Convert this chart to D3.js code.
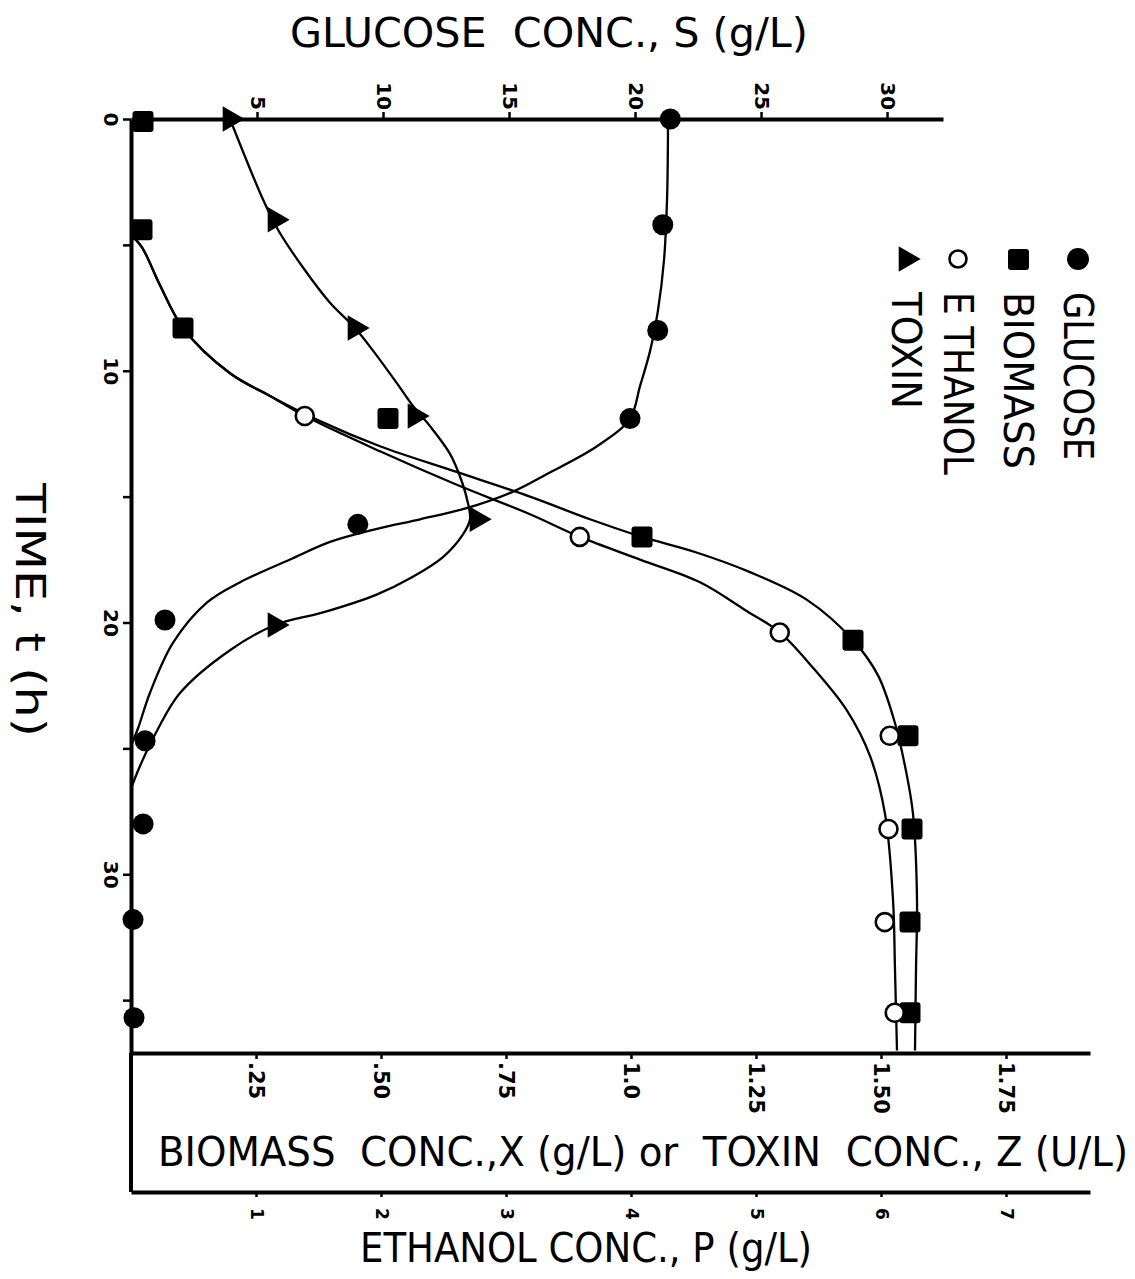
<!DOCTYPE html>
<html>
<head>
<meta charset="utf-8">
<script src="https://cdn.jsdelivr.net/npm/d3@7"></script>
<style>
  body { margin: 0; background: #fff; }
  svg { display: block; }
  .title { font-family: "DejaVu Sans Condensed", "DejaVu Sans", sans-serif; white-space: pre; }
  .tick text { font-family: "DejaVu Sans", sans-serif; font-weight: bold; }
</style>
</head>
<body>
<svg id="chart" width="1135" height="1279"></svg>
<script>
// measured points (time in h)
const glucoseT = [0, 4.2, 8.4, 11.9, 16.1, 19.9, 24.7, 28.0, 31.8, 35.7];
const glucoseS = [21.4, 21.1, 20.9, 19.8, 9.0, 1.35, 0.56, 0.48, 0.08, 0.12];

const biomassT = [0.1, 4.4, 8.3, 11.9, 16.6, 20.7, 24.5, 28.2, 31.9, 35.5];
const biomassX = [0.024, 0.022, 0.104, 0.514, 1.022, 1.444, 1.554, 1.562, 1.558, 1.558];

const ethanolT = [11.8, 16.6, 20.4, 24.5, 28.2, 31.9, 35.5];
const ethanolP = [1.39, 3.59, 5.19, 6.07, 6.06, 6.03, 6.11];

const toxinT = [0, 4.0, 8.3, 11.8, 15.9, 20.1];
const toxinZ = [0.198, 0.288, 0.448, 0.568, 0.692, 0.288];

// model curves
const glucoseFitT = [0, 3.2, 5.6, 7.6, 9.2, 10.6, 11.9, 13.0, 14.1, 14.8, 15.5, 15.9, 16.3, 16.8, 17.5, 18.4, 19.2, 20.8, 22.8, 24.2, 24.9];
const glucoseFitS = [21.31, 21.27, 21.15, 20.91, 20.6, 20.2, 19.8, 18.49, 16.51, 15.16, 13.17, 11.47, 9.68, 7.9, 6.31, 4.33, 3.02, 1.67, 0.75, 0.28, 0];

const toxinFitT = [0, 3.2, 4.4, 5.9, 7.3, 8.3, 9.2, 10.5, 11.4, 12.2, 13.3, 14.2, 15.1, 15.9, 16.5, 17.4, 18.2, 18.9, 19.6, 20.1, 21.1, 22.8, 24.3, 25.7, 26.6];
const toxinFitZ = [0.198, 0.264, 0.294, 0.344, 0.398, 0.448, 0.484, 0.532, 0.564, 0.598, 0.638, 0.658, 0.672, 0.678, 0.664, 0.624, 0.562, 0.49, 0.384, 0.288, 0.198, 0.098, 0.052, 0.018, 0];

const biomassFitT = [4.6, 5.1, 6.6, 8.3, 10.1, 11.0, 12.0, 13.0, 14.0, 15.0, 15.9, 16.6, 17.2, 18.0, 19.1, 20.7, 22.1, 24.0, 25.9, 27.6, 31.0, 33.8, 37.0];
const biomassFitX = [0, 0.022, 0.058, 0.104, 0.198, 0.278, 0.378, 0.498, 0.648, 0.798, 0.918, 1.022, 1.128, 1.238, 1.352, 1.444, 1.494, 1.528, 1.55, 1.564, 1.572, 1.57, 1.568];

const ethanolFitT = [4.6, 5.1, 6.6, 8.3, 10.1, 11.0, 11.8, 13.2, 14.5, 15.7, 16.6, 17.5, 18.4, 19.5, 20.4, 21.8, 23.5, 25.3, 27.6, 31.0, 33.8, 37.0];
const ethanolFitP = [0, 0.088, 0.232, 0.416, 0.792, 1.112, 1.392, 1.992, 2.592, 3.192, 3.592, 4.072, 4.552, 4.912, 5.192, 5.456, 5.728, 5.912, 6.032, 6.096, 6.112, 6.128];

// ticks
const timeTicks = [0, 5, 10, 15, 20, 25, 30, 35];
const timeLabeled = [0, 10, 20, 30];
const glucoseTicks = [5, 10, 15, 20, 25, 30];
const biomassTicks = [0.25, 0.5, 0.75, 1.0, 1.25, 1.5, 1.75];
const biomassTickLabels = [".25", ".50", ".75", "1.0", "1.25", "1.50", "1.75"];
const ethanolTicks = [1, 2, 3, 4, 5, 6, 7];

const legendNames = ["GLUCOSE", "BIOMASS", "E THANOL", "TOXIN"];

const svg = d3.select("#chart");
svg.append("rect").attr("width", 1135).attr("height", 1279).attr("fill", "#fff");

const yT = d3.scaleLinear().domain([0, 37.1]).range([119, 1053]);
const xS = d3.scaleLinear().domain([0, 32.22]).range([131, 943]);
const xX = d3.scaleLinear().domain([0, 1.918]).range([131, 1090]);
const xP = d3.scaleLinear().domain([0, 7.672]).range([131, 1090]);
const ethanolAxisY = 1192;

function styleAxis(g, fontSize) {
  g.attr("font-family", null).attr("font-size", fontSize);
  g.select(".domain").attr("stroke", "#000").attr("stroke-width", 4);
  g.selectAll(".tick line").attr("stroke", "#000").attr("stroke-width", 2.5);
  g.selectAll(".tick text").attr("fill", "#000");
}

// glucose axis (top)
const gS = svg.append("g").attr("transform", "translate(0," + yT(0) + ")")
  .call(d3.axisTop(xS).tickValues(glucoseTicks).tickSize(7).tickSizeOuter(0));
styleAxis(gS, 20);
gS.selectAll(".tick text")
  .attr("x", 0).attr("y", 0).attr("dy", "0.35em")
  .attr("text-anchor", "end")
  .attr("transform", "translate(0,-9) rotate(90)");

// time axis (left)
const gT = svg.append("g").attr("transform", "translate(" + xX(0) + ",0)")
  .call(d3.axisLeft(yT).tickValues(timeTicks).tickSize(8).tickSizeOuter(0)
    .tickFormat(d => timeLabeled.includes(d) ? d : ""));
styleAxis(gT, 20);
gT.selectAll(".tick text")
  .attr("x", 0).attr("y", 0).attr("dy", "0.35em")
  .attr("text-anchor", "middle")
  .attr("transform", "translate(-20,0) rotate(90)");

// frame continues down to the ethanol axis
svg.append("line")
  .attr("x1", xX(0)).attr("x2", xX(0))
  .attr("y1", yT.range()[1]).attr("y2", ethanolAxisY)
  .attr("stroke", "#000").attr("stroke-width", 4);

// biomass / toxin axis
const gX = svg.append("g").attr("transform", "translate(0," + yT.range()[1] + ")")
  .call(d3.axisBottom(xX).tickValues(biomassTicks).tickSize(6).tickSizeOuter(0)
    .tickFormat((d, i) => biomassTickLabels[i]));
styleAxis(gX, 21);
gX.selectAll(".tick text")
  .attr("x", 0).attr("y", 0).attr("dy", "0.35em")
  .attr("text-anchor", "start")
  .attr("transform", "translate(0,9) rotate(90)");

// ethanol axis
const gP = svg.append("g").attr("transform", "translate(0," + ethanolAxisY + ")")
  .call(d3.axisBottom(xP).tickValues(ethanolTicks).tickSize(5).tickSizeOuter(0));
styleAxis(gP, 17);
gP.selectAll(".tick text")
  .attr("x", 0).attr("y", 0).attr("dy", "0.35em")
  .attr("text-anchor", "start")
  .attr("transform", "translate(0,16) rotate(90)");

// titles
svg.append("text").attr("class", "title")
  .attr("x", 290).attr("y", 47).attr("font-size", 40)
  .attr("textLength", 518).attr("lengthAdjust", "spacingAndGlyphs")
  .text("GLUCOSE  CONC., S (g/L)");

svg.append("text").attr("class", "title")
  .attr("x", 158).attr("y", 1166).attr("font-size", 40)
  .attr("textLength", 970).attr("lengthAdjust", "spacingAndGlyphs")
  .text("BIOMASS  CONC.,X (g/L) or  TOXIN  CONC., Z (U/L)");

svg.append("text").attr("class", "title")
  .attr("x", 360).attr("y", 1262).attr("font-size", 40)
  .attr("textLength", 452).attr("lengthAdjust", "spacingAndGlyphs")
  .text("ETHANOL CONC., P (g/L)");

svg.append("text").attr("class", "title")
  .attr("font-size", 40).attr("dy", "0.35em")
  .attr("transform", "translate(30,483) rotate(90)")
  .attr("textLength", 254).attr("lengthAdjust", "spacingAndGlyphs")
  .text("TIME, t (h)");

// curves
function curve(ts, vs, xs) {
  return d3.line()
    .x((d, i) => xs(vs[i]))
    .y((d, i) => yT(d))
    .curve(d3.curveCatmullRom.alpha(0.5))(ts);
}
const curves = [
  [glucoseFitT, glucoseFitS, xS],
  [toxinFitT, toxinFitZ, xX],
  [biomassFitT, biomassFitX, xX],
  [ethanolFitT, ethanolFitP, xP]
];
curves.forEach(c => {
  svg.append("path")
    .attr("d", curve(c[0], c[1], c[2]))
    .attr("fill", "none")
    .attr("stroke", "#000")
    .attr("stroke-width", 2.3);
});

// markers
const tri = d3.symbol().type(d3.symbolTriangle).size(280)();

svg.append("g").selectAll("circle")
  .data(glucoseT)
  .join("circle")
  .attr("cx", (d, i) => xS(glucoseS[i]))
  .attr("cy", d => yT(d))
  .attr("r", 10.5)
  .attr("fill", "#000");

svg.append("g").selectAll("rect")
  .data(biomassT)
  .join("rect")
  .attr("x", (d, i) => xX(biomassX[i]) - 10.5)
  .attr("y", d => yT(d) - 10.5)
  .attr("width", 21).attr("height", 21).attr("rx", 3)
  .attr("fill", "#000");

svg.append("g").selectAll("circle")
  .data(ethanolT)
  .join("circle")
  .attr("cx", (d, i) => xP(ethanolP[i]))
  .attr("cy", d => yT(d))
  .attr("r", 9)
  .attr("fill", "#fff")
  .attr("stroke", "#000")
  .attr("stroke-width", 2.6);

svg.append("g").selectAll("path")
  .data(toxinT)
  .join("path")
  .attr("d", tri)
  .attr("transform", (d, i) => "translate(" + xX(toxinZ[i]) + "," + yT(d) + ") rotate(90)")
  .attr("fill", "#000");

// legend (rotated like the rest of the figure)
const legendX = [1078, 1018, 958, 906];
const legend = svg.append("g");
legendNames.forEach((name, i) => {
  const lx = legendX[i];
  if (i === 0) legend.append("circle").attr("cx", lx).attr("cy", 259).attr("r", 11).attr("fill", "#000");
  if (i === 1) legend.append("rect").attr("x", lx - 10).attr("y", 249).attr("width", 21).attr("height", 21).attr("rx", 3).attr("fill", "#000");
  if (i === 2) legend.append("circle").attr("cx", lx).attr("cy", 259).attr("r", 8.5).attr("fill", "#fff").attr("stroke", "#000").attr("stroke-width", 2.6);
  if (i === 3) legend.append("path").attr("d", tri).attr("transform", "translate(" + lx + ",259) rotate(90)").attr("fill", "#000");
  legend.append("text").attr("class", "title")
    .attr("font-size", 40).attr("dy", "0.35em")
    .attr("transform", "translate(" + lx + ",292) rotate(90)")
    .attr("textLength", [168, 177, 183, 117][i]).attr("lengthAdjust", "spacingAndGlyphs")
    .text(name);
});
</script>
</body>
</html>
